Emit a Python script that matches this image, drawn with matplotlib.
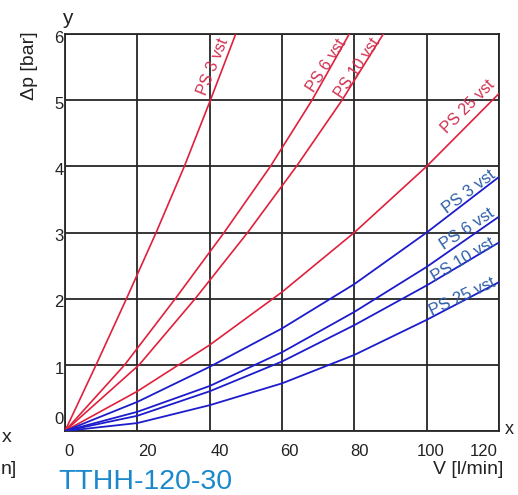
import matplotlib
matplotlib.use("Agg")
import matplotlib.pyplot as plt
from matplotlib.transforms import ScaledTranslation

plt.rcParams['font.family'] = ['Liberation Sans', 'DejaVu Sans']

# ---- data ----
red_labels = ["PS 3 vst", "PS 6 vst", "PS 10 vst", "PS 25 vst"]
red_v = [
    [0, 8.6, 17, 25.2, 33, 40.2, 47.2],
    [0, 16.5, 30.5, 44, 56.8, 68.3, 78.6],
    [0, 20.5, 36, 50.5, 64, 76.6, 88],
    [0, 20, 40, 60, 80, 100, 120],
]
red_dp = [
    [0, 1, 2, 3, 4, 5, 6],
    [0, 1, 2, 3, 4, 5, 6],
    [0, 1, 2, 3, 4, 5, 6],
    [0, 0.6, 1.3, 2.1, 3.0, 4.0, 5.1],
]
blue_labels = ["PS 3 vst", "PS 6 vst", "PS 10 vst", "PS 25 vst"]
blue_v = [
    [0, 20, 40, 60, 80, 100, 120],
    [0, 20, 40, 60, 80, 100, 120],
    [0, 20, 40, 60, 80, 100, 120],
    [0, 20, 40, 60, 80, 100, 120],
]
blue_dp = [
    [0, 0.44, 0.97, 1.55, 2.22, 3.0, 3.84],
    [0, 0.29, 0.68, 1.19, 1.8, 2.48, 3.24],
    [0, 0.23, 0.6, 1.05, 1.6, 2.2, 2.85],
    [0, 0.12, 0.39, 0.72, 1.15, 1.68, 2.25],
]
x_ticks = [0, 20, 40, 60, 80, 100, 120]
y_ticks = [0, 1, 2, 3, 4, 5, 6]

# ---- label placement (styling) ----
red_lab_pos = [(40.9, 5.5, 68), (72.4, 5.53, 57), (80.9, 5.48, 56), (111.4, 4.9, 45)]
blue_lab_pos = [(111.7, 3.61, 37), (111.1, 3.05, 34), (110.0, 2.58, 31), (110.0, 2.02, 25)]

RED = "#e0203c"
RED_TXT = "#d03050"
BLUE = "#1c1ccc"
BLUE_TXT = "#2d5ea8"
GRID = "#262626"

fig = plt.figure(figsize=(5.18, 4.95), dpi=100)
ax = fig.add_axes([65/518, 1-431/495, 434/518, 397/495])
ax.set_xlim(0, 120)
ax.set_ylim(0, 6)
ax.set_xticks(x_ticks)
ax.set_yticks(y_ticks)
ax.grid(True, color=GRID, linewidth=1.3, zorder=1)
for s in ax.spines.values():
    s.set_color(GRID)
    s.set_linewidth(1.3)
ax.tick_params(length=0, labelsize=12, colors="#222222")
ax.tick_params(axis='y', pad=1)
ax.tick_params(axis='x', pad=9)
ax.set_xticklabels([str(t) for t in x_ticks])
ax.set_yticklabels([str(t) for t in y_ticks])

# x tick label shifts as in the reference
x_shift = [3, 7, 7, 5, 4, 3, -11]
for lab, dx in zip(ax.get_xticklabels(), x_shift):
    lab.set_transform(lab.get_transform() + ScaledTranslation(dx/72, 0, fig.dpi_scale_trans))
ylabs = ax.get_yticklabels()
ylabs[0].set_transform(ylabs[0].get_transform() + ScaledTranslation(0, 9/72, fig.dpi_scale_trans))
for lab in ylabs[1:]:
    lab.set_transform(lab.get_transform() + ScaledTranslation(0, -2/72, fig.dpi_scale_trans))

for v, dp in zip(red_v, red_dp):
    ax.plot(v, dp, color=RED, lw=1.2, zorder=3, clip_on=True, solid_joinstyle='round')
for v, dp in zip(blue_v, blue_dp):
    ax.plot(v, dp, color=BLUE, lw=1.3, zorder=3, clip_on=True, solid_joinstyle='round')

for txt, (x, y, r) in zip(red_labels, red_lab_pos):
    ax.text(x, y, txt, color=RED_TXT, fontsize=11.5, rotation=r,
            ha='center', va='center', rotation_mode='anchor', zorder=4)
for txt, (x, y, r) in zip(blue_labels, blue_lab_pos):
    ax.text(x, y, txt, color=BLUE_TXT, fontsize=12, rotation=r,
            ha='center', va='center', rotation_mode='anchor', zorder=4)

# axis titles
fig.text(30/518, 1-66/495, "Δp [bar]", rotation=90, fontsize=14,
         ha='center', va='center', color="#222222")
fig.text(67/518, 1-19/495, "y", fontsize=15, ha='center', va='center', color="#222222")
fig.text(503/518, 1-470/495, "V [l/min]", fontsize=14, ha='right', va='center', color="#222222")
fig.text(7/518, 1-437/495, "x", fontsize=14, ha='center', va='center', color="#222222")
fig.text(0.5/518, 1-469/495, "n]", fontsize=14, ha='left', va='center', color="#222222")
fig.text(505/518, 1-430/495, "x", fontsize=13, ha='left', va='center', color="#222222")
fig.text(58/518, 1-482/495, "TTHH-120-30", fontsize=20.5, ha='left', va='center', color="#1a88cc")

fig.savefig("out.png", dpi=100)
